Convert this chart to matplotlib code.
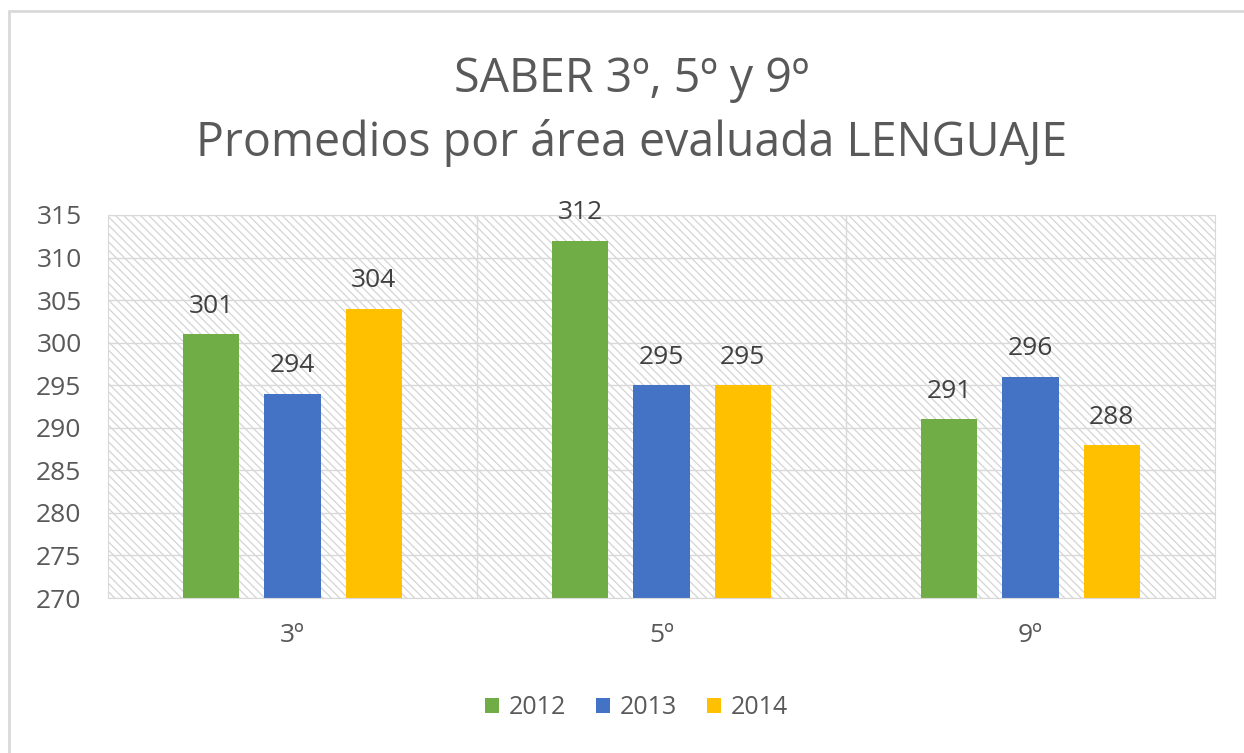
import numpy as np
import matplotlib.pyplot as plt
from matplotlib.patches import Rectangle

# Data
grades = ['3º', '5º', '9º']
years = ['2012', '2013', '2014']
scores_2012 = [301, 312, 291]
scores_2013 = [294, 295, 296]
scores_2014 = [304, 295, 288]
colors = ['#70AD47', '#4472C4', '#FFC000']

plt.rcParams['font.family'] = ['Open Sans', 'DejaVu Sans']
plt.rcParams['hatch.linewidth'] = 0.9
plt.rcParams['hatch.color'] = '#D4D4D4'

fig = plt.figure(figsize=(12.44, 7.53), dpi=100)

# light frame around the chart
fig.patches.append(Rectangle((0.007, -0.05), 1.2, 1.036, transform=fig.transFigure,
                             fill=False, edgecolor='#D9D9D9', linewidth=2))

ax = fig.add_axes([0.0868, 0.2058, 0.8899, 0.5087])
ax.patch.set_facecolor('white')
ax.patch.set_hatch('\\' * 4)
ax.patch.set_edgecolor('#D4D4D4')

x = np.arange(len(grades))
width = 0.152
offset = 0.22
series = [scores_2012, scores_2013, scores_2014]

ax.set_ylim(270, 315)
ax.set_xlim(-0.5, 2.5)
ax.set_yticks(range(270, 316, 5))
ax.yaxis.grid(True, color='#D9D9D9', linewidth=1)
ax.set_axisbelow(True)
for b in [0.5, 1.5]:
    ax.axvline(b, color='#D9D9D9', linewidth=1, zorder=0.5)

for i, (vals, yr) in enumerate(zip(series, years)):
    bars = ax.bar(x + (i - 1) * offset, vals, width,
                  color=colors[i], label=yr, zorder=2)
    for bar, v in zip(bars, vals):
        ax.annotate(str(v), (bar.get_x() + bar.get_width() / 2, v),
                    xytext=(0, 11), textcoords='offset points',
                    ha='center', va='bottom', fontsize=19, color='#404040')

for s in ax.spines.values():
    s.set_color('#D9D9D9')
ax.tick_params(length=0, labelsize=19, colors='#595959')
ax.tick_params(axis='y', pad=19)
ax.tick_params(axis='x', pad=18)
ax.set_xticks(x)
ax.set_xticklabels(grades)

fig.text(0.508, 0.895, 'SABER 3º, 5º y 9º', ha='center', va='center',
         fontsize=33.5, color='#595959')
fig.text(0.508, 0.81, 'Promedios por área evaluada LENGUAJE', ha='center', va='center',
         fontsize=33.5, color='#595959')

fig.legend(loc='center', bbox_to_anchor=(0.512, 0.06), ncol=3, frameon=False,
           fontsize=18, handlelength=0.55, handleheight=0.55, handletextpad=0.4,
           columnspacing=1.2, labelcolor='#595959')

plt.savefig('out.png', dpi=100)
